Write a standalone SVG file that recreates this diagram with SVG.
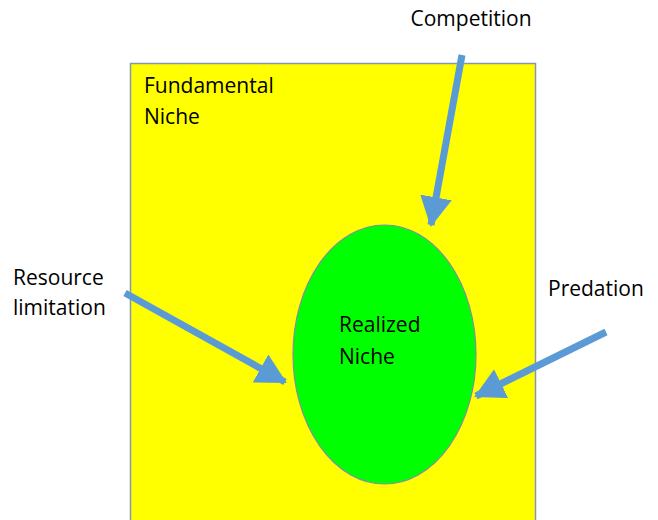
<svg xmlns="http://www.w3.org/2000/svg" width="658" height="520" viewBox="0 0 658 520">
  <style>
    .lbl { font-family: "Open Sans", "Noto Sans", "DejaVu Sans", sans-serif; font-size: 21px; fill: #000; }
    .arrow { stroke: #5B9BD5; stroke-width: 7; fill: none; marker-end: url(#head); }
  </style>
  <defs>
    <marker id="head" markerUnits="userSpaceOnUse" markerWidth="30" markerHeight="32" viewBox="0 0 30 32" refX="28" refY="16" orient="auto">
      <path d="M0,0 L30,16 L0,32 Z" fill="#5B9BD5"/>
    </marker>
  </defs>
  <rect width="658" height="520" fill="#fff"/>

  <g id="fundamental-niche">
    <rect x="130.5" y="63.5" width="405" height="470" fill="#FFFF00" stroke="#8497B0" stroke-width="1.5"/>
    <text class="lbl" x="144" y="93">Fundamental</text>
    <text class="lbl" x="144" y="124">Niche</text>
  </g>

  <g id="realized-niche">
    <ellipse cx="384.5" cy="354.5" rx="91.5" ry="129.5" fill="#00FF00" stroke="#7F8FA6" stroke-width="1.2"/>
    <text class="lbl" x="339" y="332">Realized</text>
    <text class="lbl" x="339" y="364">Niche</text>
  </g>

  <g id="competition">
    <text class="lbl" x="471" y="26" text-anchor="middle">Competition</text>
  </g>
  <g id="resource-limitation">
    <text class="lbl" x="13" y="285">Resource</text>
    <text class="lbl" x="13" y="315">limitation</text>
  </g>
  <g id="predation">
    <text class="lbl" x="548" y="296">Predation</text>
  </g>

  <g id="connectors">
    <line class="arrow" x1="462" y1="55" x2="431" y2="225"/>
    <line class="arrow" x1="125" y1="293" x2="285" y2="382"/>
    <line class="arrow" x1="606" y1="332" x2="476" y2="396"/>
  </g>
</svg>
